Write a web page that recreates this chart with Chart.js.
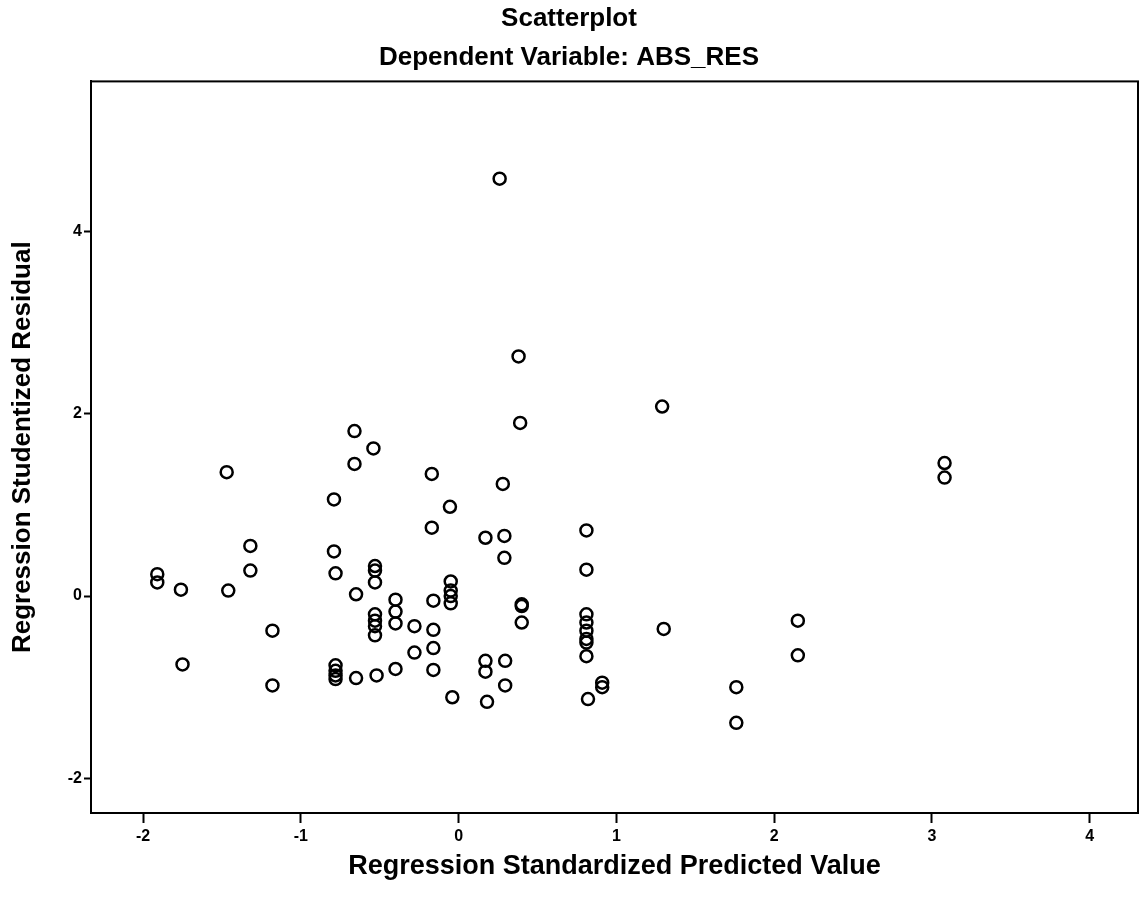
<!DOCTYPE html>
<html>
<head>
<meta charset="utf-8">
<script src="https://cdn.jsdelivr.net/npm/chart.js@4/dist/chart.umd.min.js"></script>
<style>
  html, body { margin: 0; padding: 0; background: #ffffff; }
  #wrap { width: 1141px; height: 897px; }
</style>
</head>
<body>
<div id="wrap"><canvas id="c" width="1141" height="897"></canvas></div>
<script>
// Regression Standardized Predicted Value (x) and Regression Studentized Residual (y)
const predicted = [
  -1.91, -1.91, -1.76, -1.75, -1.47, -1.46, -1.32, -1.32, -1.18, -1.18,
  -0.79, -0.79, -0.78, -0.78, -0.78, -0.78, -0.78, -0.66, -0.66, -0.65,
  -0.65, -0.54, -0.53, -0.53, -0.53, -0.53, -0.53, -0.53, -0.53, -0.52,
  -0.40, -0.40, -0.40, -0.40, -0.28, -0.28, -0.17, -0.17, -0.16, -0.16,
  -0.16, -0.16, -0.055, -0.05, -0.05, -0.05, -0.05, -0.04, 0.17, 0.17,
  0.17, 0.18, 0.26, 0.28, 0.29, 0.29, 0.295, 0.295, 0.38, 0.39,
  0.40, 0.40, 0.40, 0.81, 0.81, 0.81, 0.81, 0.81, 0.81, 0.81,
  0.81, 0.82, 0.91, 0.91, 1.29, 1.30, 1.76, 1.76, 2.15, 2.15,
  3.08, 3.08
];
const residual = [
  0.24, 0.15, 0.07, -0.75, 1.36, 0.06, 0.55, 0.28, -0.38, -0.98,
  1.06, 0.49, 0.25, -0.76, -0.82, -0.87, -0.91, 1.81, 1.45, 0.02,
  -0.90, 1.62, 0.33, 0.28, 0.15, -0.20, -0.27, -0.33, -0.43, -0.87,
  -0.04, -0.17, -0.30, -0.80, -0.33, -0.62, 1.34, 0.75, -0.05, -0.37,
  -0.57, -0.81, 0.98, 0.16, 0.06, 0.00, -0.08, -1.11, 0.64, -0.71,
  -0.83, -1.16, 4.58, 1.23, 0.66, 0.42, -0.71, -0.98, 2.63, 1.90,
  -0.09, -0.11, -0.29, 0.72, 0.29, -0.20, -0.29, -0.38, -0.47, -0.51,
  -0.66, -1.13, -0.95, -1.00, 2.08, -0.36, -1.00, -1.39, -0.27, -0.65,
  1.46, 1.30
];
const xTickValues = [-2, -1, 0, 1, 2, 3, 4];
const yTickValues = [-2, 0, 2, 4];

const points = predicted.map((x, i) => ({ x: x, y: residual[i] }));

const FONT = "'Liberation Sans', Arial, Helvetica, sans-serif";

const frameBox = {
  id: 'frameBox',
  afterDatasetsDraw(chart) {
    const a = chart.chartArea;
    const ctx = chart.ctx;
    ctx.save();
    ctx.strokeStyle = '#000';
    ctx.lineWidth = 2;
    ctx.strokeRect(a.left, a.top, a.right - a.left, a.bottom - a.top);
    ctx.restore();
  }
};

new Chart(document.getElementById('c'), {
  type: 'scatter',
  data: {
    datasets: [{
      data: points,
      pointStyle: 'circle',
      pointRadius: 6,
      pointHoverRadius: 6,
      borderWidth: 2.5,
      pointBorderWidth: 2.5,
      borderColor: '#000',
      pointBorderColor: '#000',
      backgroundColor: 'rgba(0,0,0,0)',
      pointBackgroundColor: 'rgba(0,0,0,0)'
    }]
  },
  options: {
    responsive: false,
    animation: false,
    layout: { autoPadding: false, padding: { left: 0, right: 3, top: 0, bottom: 0 } },
    plugins: {
      legend: { display: false },
      tooltip: { enabled: false },
      title: {
        display: true,
        text: 'Scatterplot',
        color: '#000',
        font: { family: FONT, size: 26, weight: 'bold' },
        padding: { top: 3, bottom: 8 }
      },
      subtitle: {
        display: true,
        text: 'Dependent Variable: ABS_RES',
        color: '#000',
        font: { family: FONT, size: 26, weight: 'bold' },
        padding: { top: 0, bottom: 8 }
      }
    },
    scales: {
      x: {
        type: 'linear',
        position: 'bottom',
        min: -2.33,
        max: 4.306,
        afterBuildTicks: (s) => { s.ticks = xTickValues.map(v => ({ value: v })); },
        afterFit: (s) => { s.height = 84; s.paddingLeft = 0; s.paddingRight = 0; },
        ticks: {
          color: '#000',
          font: { family: FONT, size: 16, weight: 'bold' },
          padding: 4,
          maxRotation: 0,
          autoSkip: false,
          callback: (v) => String(v)
        },
        grid: {
          drawOnChartArea: false,
          drawTicks: true,
          tickLength: 10,
          tickWidth: 2,
          tickColor: '#000'
        },
        border: { display: true, color: '#000', width: 2 },
        title: {
          display: true,
          text: 'Regression Standardized Predicted Value',
          color: '#000',
          font: { family: FONT, size: 27, weight: 'bold' },
          padding: { top: 0, bottom: 14 }
        }
      },
      y: {
        type: 'linear',
        position: 'left',
        min: -2.38,
        max: 5.647,
        afterBuildTicks: (s) => { s.ticks = yTickValues.map(v => ({ value: v })); },
        afterFit: (s) => { s.width = 91; s.paddingTop = 0; s.paddingBottom = 0; },
        ticks: {
          color: '#000',
          font: { family: FONT, size: 16, weight: 'bold' },
          padding: 2,
          autoSkip: false,
          callback: (v) => String(v)
        },
        grid: {
          drawOnChartArea: false,
          drawTicks: true,
          tickLength: 7,
          tickWidth: 2,
          tickColor: '#000'
        },
        border: { display: true, color: '#000', width: 2 },
        title: {
          display: true,
          text: 'Regression Studentized Residual',
          color: '#000',
          font: { family: FONT, size: 26, weight: 'bold' },
          padding: { top: 7, bottom: 0 }
        }
      }
    }
  },
  plugins: [frameBox]
});
</script>
</body>
</html>
